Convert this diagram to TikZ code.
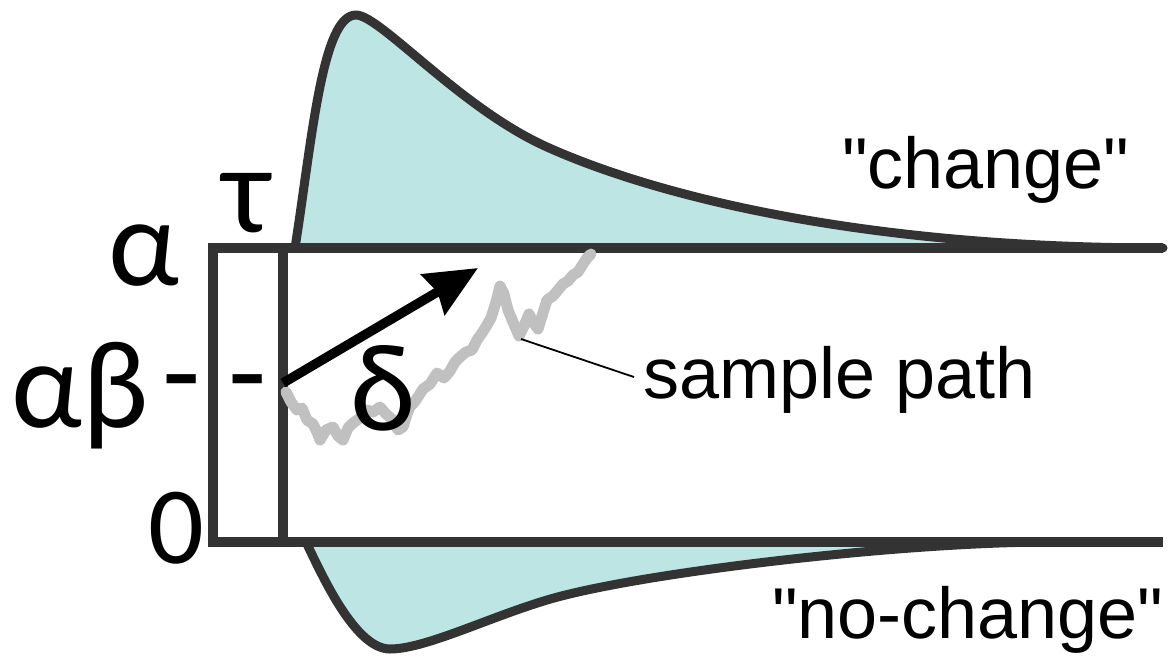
\documentclass[tikz,border=0pt]{standalone}
\usepackage{fontspec}
\setmainfont{Liberation Sans}
\newfontfamily\arl{Liberation Sans}[Ligatures=ResetAll]
\newfontfamily\grk{Carlito}
\usetikzlibrary{arrows.meta}
\definecolor{lineg}{RGB}{51,51,51}
\definecolor{fillc}{RGB}{189,229,228}
\definecolor{pathg}{RGB}{192,192,192}
\begin{document}
\begin{tikzpicture}[x=1pt,y=-1pt,
  lbl/.style={inner sep=0pt, anchor=base west, font=\arl\fontsize{72}{80}\selectfont},
  glb/.style={inner sep=0pt, anchor=base west, font=\grk\fontsize{125}{130}\selectfont},
  axisline/.style={draw=lineg, line width=10pt},
  curve/.style={draw=lineg, line width=9pt, line join=round, line cap=round},
  dens/.style={fill=fillc}]
\useasboundingbox (0,0) rectangle (1171,657);
% density shapes
\coordinate (c0) at (295,248);
\coordinate (cpk) at (356,15);
\coordinate (cm) at (547,147);
\coordinate (cend) at (1163,248);
\coordinate (n0) at (306,542);
\coordinate (npk) at (390,649);
\coordinate (nm) at (547,600);
\coordinate (nend) at (1050,542);
\fill[dens] (c0) .. controls (312,140) and (322,15) .. (cpk)
  .. controls (380,15) and (460,108) .. (cm)
  .. controls (647,192) and (850,248) .. (cend) -- cycle;
\fill[dens] (n0) .. controls (322,575) and (355,649) .. (npk)
  .. controls (425,649) and (487,618) .. (nm)
  .. controls (637,573) and (900,542) .. (nend) -- cycle;
\draw[curve] (c0) .. controls (312,140) and (322,15) .. (cpk)
  .. controls (380,15) and (460,108) .. (cm)
  .. controls (647,192) and (850,248) .. (cend);
\draw[curve] (n0) .. controls (322,575) and (355,649) .. (npk)
  .. controls (425,649) and (487,618) .. (nm)
  .. controls (637,573) and (900,542) .. (nend);
% axes / box
\coordinate (tl) at (213,248);
\coordinate (tr) at (1163,248);
\coordinate (bl) at (213,542);
\coordinate (br) at (1163,542);
\coordinate (tt) at (283,248);
\coordinate (tb) at (283,542);
\draw[axisline] (tr) -- (tl) -- (bl) -- (br);
\draw[axisline] (tt) -- (tb);
% sample path
\draw[pathg, line width=11pt, line join=round, line cap=round] plot coordinates {(286,392) (291,402) (297,410) (302,408) (307,420) (313,424) (317,432) (320,440) (326,430) (333,427) (338,436) (343,440) (348,428) (353,423) (360,418) (367,410) (373,412) (380,407) (386,414) (393,420) (398,430) (403,427) (407,414) (410,407) (416,400) (423,389) (430,384) (437,373) (444,378) (450,371) (455,362) (460,357) (466,352) (472,350) (477,340) (482,333) (487,325) (491,318) (496,302) (500,286) (504,294) (508,310) (513,322) (519,336) (524,326) (529,314) (533,322) (538,329) (542,316) (547,300) (553,296) (558,290) (563,284) (568,281) (573,275) (578,272) (583,264) (587,258) (591,254)};
% drift arrow
\coordinate (as) at (283,383);
\coordinate (ae) at (478,268);
\draw[black, line width=9.5pt, -{Stealth[length=52pt,width=46pt,inset=5pt]}] (as) -- (ae);
% labels
\node[lbl] (chg) at (842,188) {"change"};
\node[lbl] (nochg) at (772,638) {"no-change"};
\node[lbl] (sp) at (643,398) {sample path};
\coordinate (pp) at (521,339);
\coordinate (spl) at (634,377);
\draw[black, line width=1.8pt] (pp) -- (spl);
\node[glb] (alpha) at (108,285) {α};
\node[glb] (ab) at (11,427) {αβ};
\node[glb] (d1) at (162,414) {-};
\node[glb] (d2) at (228,414) {-};
\node[glb, font=\grk\fontsize{110}{120}\selectfont] (zero) at (148,563) {0};
\node[glb] (tau) at (222,232) {τ};
\node[glb] (delta) at (350,430) {δ};
\end{tikzpicture}
\end{document}
